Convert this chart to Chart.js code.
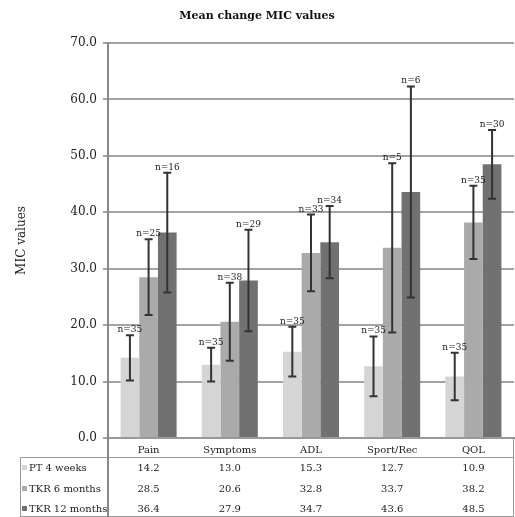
<!DOCTYPE html>
<html>
<head>
<meta charset="utf-8">
<script src="https://cdn.jsdelivr.net/npm/chart.js@4.4.1/dist/chart.umd.min.js"></script>
<style>
  body { margin: 0; background: #fff; }
</style>
</head>
<body>
<canvas id="micChart" width="515" height="517"></canvas>
<script>
const categories = ['Pain', 'Symptoms', 'ADL', 'Sport/Rec', 'QOL'];
const seriesNames = ['PT 4 weeks', 'TKR 6 months', 'TKR 12 months'];

const pt4Weeks = [14.2, 13.0, 15.3, 12.7, 10.9];
const tkr6Months = [28.5, 20.6, 32.8, 33.7, 38.2];
const tkr12Months = [36.4, 27.9, 34.7, 43.6, 48.5];

// half-width of the error bars
const pt4Err = [4.0, 3.0, 4.4, 5.3, 4.2];
const tkr6Err = [6.7, 6.9, 6.8, 15.0, 6.5];
const tkr12Err = [10.6, 9.0, 6.4, 18.7, 6.1];

const pt4N = [35, 35, 35, 35, 35];
const tkr6N = [25, 38, 33, 5, 35];
const tkr12N = [16, 29, 34, 6, 30];

const yTicks = [0, 10, 20, 30, 40, 50, 60, 70];

const colors = ['#d5d5d5', '#aaaaaa', '#717171'];
const FONT = "'DejaVu Serif', 'Liberation Serif', serif";

Chart.defaults.font.family = FONT;
Chart.defaults.color = '#222';

const errorBars = {
    id: 'errorBars',
    afterDatasetsDraw(chart) {
        const ctx = chart.ctx;
        const y = chart.scales.y;
        ctx.save();
        chart.data.datasets.forEach((ds, i) => {
            const meta = chart.getDatasetMeta(i);
            meta.data.forEach((bar, j) => {
                const top = y.getPixelForValue(ds.data[j] + ds.errors[j]);
                const bot = y.getPixelForValue(ds.data[j] - ds.errors[j]);
                ctx.strokeStyle = '#333';
                ctx.lineWidth = 2;
                ctx.beginPath();
                ctx.moveTo(bar.x, top);
                ctx.lineTo(bar.x, bot);
                ctx.moveTo(bar.x - 4, top);
                ctx.lineTo(bar.x + 4, top);
                ctx.moveTo(bar.x - 4, bot);
                ctx.lineTo(bar.x + 4, bot);
                ctx.stroke();

                ctx.fillStyle = '#222';
                ctx.font = '9px ' + FONT;
                ctx.textAlign = 'center';
                ctx.textBaseline = 'alphabetic';
                ctx.fillText('n=' + ds.counts[j], bar.x, top - 3);
            });
        });
        ctx.restore();
    }
};

// the data table under the x axis
const dataTable = {
    id: 'dataTable',
    afterDraw(chart) {
        const ctx = chart.ctx;
        const x = chart.scales.x;
        const area = chart.chartArea;
        const tableLeft = 20;
        const rowY = [468, 489, 509];
        ctx.save();
        ctx.strokeStyle = '#999';
        ctx.lineWidth = 1;
        ctx.beginPath();
        ctx.moveTo(tableLeft, 457.5);
        ctx.lineTo(area.right, 457.5);
        ctx.moveTo(tableLeft + 0.5, 457);
        ctx.lineTo(tableLeft + 0.5, 517);
        ctx.moveTo(area.right - 0.5, area.bottom);
        ctx.lineTo(area.right - 0.5, 517);
        ctx.moveTo(tableLeft, 516.5);
        ctx.lineTo(area.right, 516.5);
        ctx.stroke();
        ctx.strokeStyle = '#888';
        ctx.lineWidth = 2;
        ctx.beginPath();
        ctx.moveTo(area.left, area.bottom);
        ctx.lineTo(area.left, 517);
        ctx.stroke();

        ctx.font = '10px ' + FONT;
        ctx.textBaseline = 'middle';
        chart.data.datasets.forEach((ds, i) => {
            ctx.fillStyle = ds.backgroundColor;
            ctx.fillRect(tableLeft + 2, rowY[i] - 3, 5, 5);
            ctx.fillStyle = '#222';
            ctx.textAlign = 'left';
            ctx.fillText(ds.label, tableLeft + 9, rowY[i]);
            ctx.textAlign = 'center';
            ds.data.forEach((v, j) => {
                ctx.fillText(v.toFixed(1), x.getPixelForValue(j), rowY[i]);
            });
        });
        ctx.restore();
    }
};

new Chart(document.getElementById('micChart'), {
    type: 'bar',
    data: {
        labels: categories,
        datasets: [
            { label: seriesNames[0], data: pt4Weeks, errors: pt4Err, counts: pt4N, backgroundColor: colors[0] },
            { label: seriesNames[1], data: tkr6Months, errors: tkr6Err, counts: tkr6N, backgroundColor: colors[1] },
            { label: seriesNames[2], data: tkr12Months, errors: tkr12Err, counts: tkr12N, backgroundColor: colors[2] }
        ]
    },
    options: {
        responsive: false,
        animation: false,
        layout: { padding: { top: 10, right: 1, left: 0, bottom: 0 } },
        datasets: {
            bar: { categoryPercentage: 0.69, barPercentage: 1.0 }
        },
        plugins: {
            legend: { display: false },
            tooltip: { enabled: false },
            title: {
                display: true,
                text: 'Mean change MIC values',
                color: '#111',
                font: { size: 11, weight: 'bold', family: FONT },
                padding: { top: 0, bottom: 19.8 }
            }
        },
        scales: {
            x: {
                grid: { display: false, drawTicks: false },
                border: { display: true, color: '#999', width: 2 },
                ticks: { font: { size: 10 }, padding: 6, color: '#222' },
                afterFit(scale) { scale.height = 79; }
            },
            y: {
                min: 0,
                max: 70,
                afterBuildTicks(scale) { scale.ticks = yTicks.map(v => ({ value: v })); },
                ticks: {
                    font: { size: 12 },
                    color: '#222',
                    padding: 6,
                    callback: v => v.toFixed(1)
                },
                grid: { color: '#a3a3a3', lineWidth: 2, tickLength: 5 },
                border: { color: '#888', width: 2 },
                title: {
                    display: true,
                    text: 'MIC values',
                    font: { size: 12 },
                    color: '#222',
                    padding: { top: 15, bottom: 0 }
                },
                afterFit(scale) { scale.width = 108; }
            }
        }
    },
    plugins: [errorBars, dataTable]
});
</script>
</body>
</html>
